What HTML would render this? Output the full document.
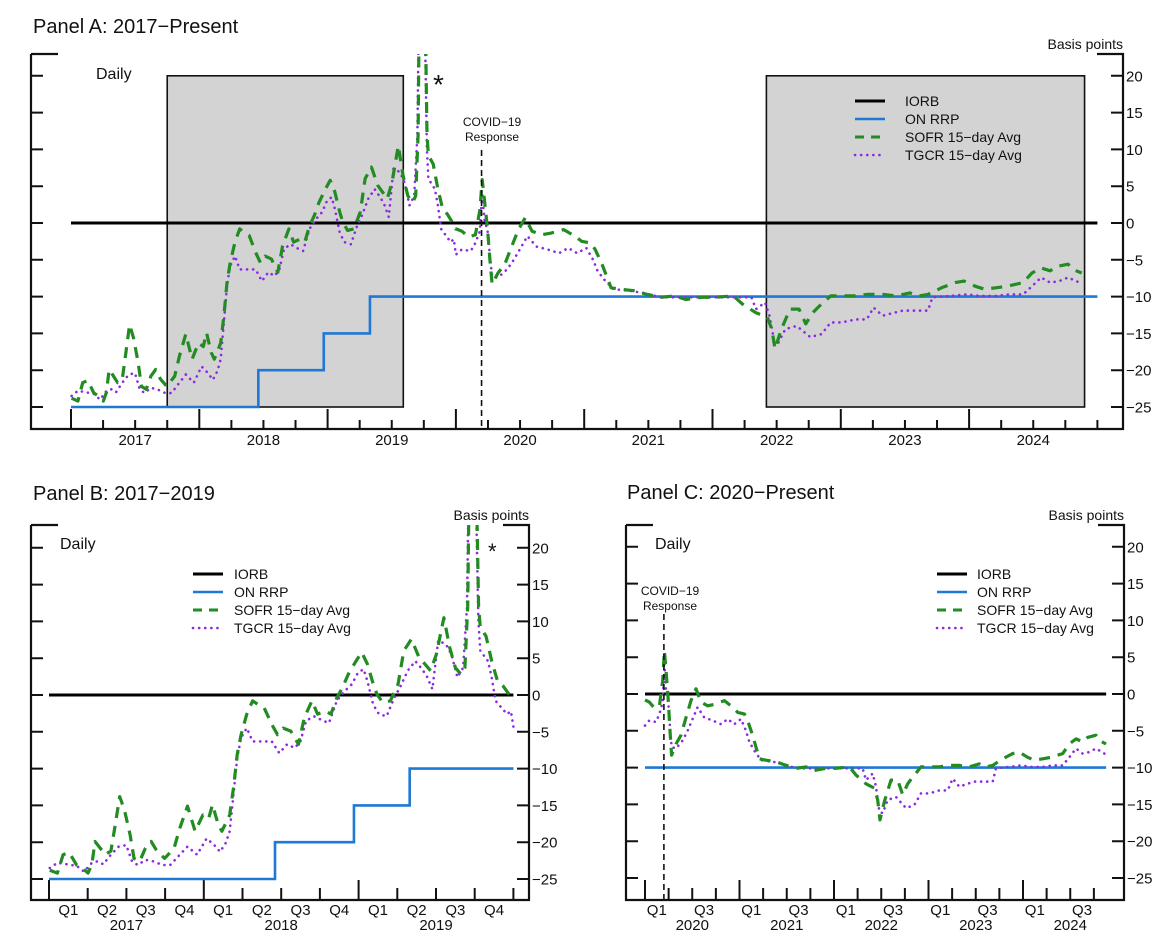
<!DOCTYPE html>
<html><head><meta charset="utf-8"><style>
html,body{margin:0;padding:0;background:#fff;}
svg{display:block;font-family:"Liberation Sans",Arial,sans-serif;}
</style></head><body>
<svg id="chart" width="1168" height="945" viewBox="0 0 1168 945" xmlns="http://www.w3.org/2000/svg">
<rect x="0" y="0" width="1168" height="945" fill="#fff"/>
<text x="33" y="33" font-size="20" fill="#111">Panel A: 2017−Present</text>
<text x="33" y="500" font-size="20" fill="#111">Panel B: 2017−2019</text>
<text x="627" y="499" font-size="20" fill="#111">Panel C: 2020−Present</text>
</svg>
<script>
// ---- data (decimal years, basis points relative to IORB) ----
const sofrDates = [2017.005,2017.054,2017.091,2017.129,2017.153,2017.178,2017.215,2017.252,2017.277,2017.297,2017.331,2017.363,2017.400,2017.425,2017.457,2017.487,2017.524,2017.549,2017.586,2017.623,2017.660,2017.697,2017.747,2017.808,2017.845,2017.895,2017.944,2017.994,2018.031,2018.056,2018.093,2018.117,2018.167,2018.192,2018.216,2018.241,2018.278,2018.315,2018.352,2018.389,2018.439,2018.476,2018.513,2018.562,2018.612,2018.649,2018.698,2018.735,2018.785,2018.822,2018.859,2018.896,2018.933,2018.983,2019.020,2019.057,2019.094,2019.119,2019.156,2019.205,2019.255,2019.292,2019.341,2019.391,2019.428,2019.465,2019.502,2019.551,2019.588,2019.625,2019.663,2019.687,2019.705,2019.715,2019.760,2019.775,2019.786,2019.823,2019.860,2019.897,2019.934,2019.972,2019.996,
2020.000,2020.046,2020.099,2020.152,2020.187,2020.205,2020.222,2020.247,2020.265,2020.282,2020.328,2020.381,2020.434,2020.487,2020.540,2020.593,2020.663,2020.734,2020.840,2020.928,2020.981,2021.051,2021.086,2021.139,2021.210,2021.280,2021.386,2021.492,2021.598,2021.704,2021.792,2021.915,2022.021,2022.162,2022.233,2022.339,2022.427,2022.462,2022.487,2022.533,2022.603,2022.674,2022.727,2022.780,2022.832,2022.921,2023.009,2023.115,2023.203,2023.326,2023.432,2023.538,2023.608,2023.679,2023.785,2023.891,2023.961,2024.049,2024.120,2024.208,2024.296,2024.420,2024.490,2024.561,2024.631,2024.684,2024.772,2024.808,2024.878];
const sofrVals = [-23.8,-24.2,-21.7,-21.4,-22.2,-23.1,-23.5,-24.2,-23,-19.9,-20.8,-21.7,-21.2,-18,-13.8,-15.6,-19,-22.2,-22.6,-20.8,-19.9,-21.2,-22.2,-20.8,-18.1,-15.1,-18.5,-16.3,-16.8,-14.9,-17.6,-18.5,-16.3,-12.6,-8.1,-5.4,-2.6,-0.8,-1.3,-1.7,-4,-5.4,-4.5,-4.9,-6.7,-3.1,-0.8,-2.6,-2.2,-2.6,-0.4,1,2.8,4.6,5.8,4.2,1.5,0.1,-1,-0.8,1.5,6,7.6,5.1,4.2,3.3,5.5,10.5,6.5,3.7,2.8,3.7,12,30,30,12,9.2,8,4.6,1.9,1.2,0.1,-0.8,
-0.8,-1.1,-1.9,-1.6,1.8,5.9,3.2,-0.9,-5,-8.3,-6.8,-5.6,-3.2,-0.9,0.7,-1.1,-1.6,-1.4,-0.9,-1.8,-2.5,-2.7,-3.6,-5.6,-8.8,-9,-9.2,-9.7,-10.1,-9.9,-10.4,-10.1,-10.1,-9.9,-11,-12.2,-12.8,-14.4,-17.1,-14.6,-11.7,-11.7,-13.7,-12.2,-11.3,-9.9,-9.9,-9.9,-9.7,-9.7,-9.9,-9.5,-9.9,-9.7,-8.8,-8.1,-7.9,-8.6,-9,-8.8,-8.6,-8.1,-6.8,-6.1,-6.5,-5.9,-5.6,-6.3,-6.8];
const tgcrDates = [2017.005,2017.054,2017.116,2017.178,2017.227,2017.277,2017.314,2017.351,2017.400,2017.450,2017.499,2017.536,2017.573,2017.623,2017.672,2017.734,2017.783,2017.845,2017.895,2017.957,2018.018,2018.068,2018.105,2018.142,2018.167,2018.192,2018.216,2018.241,2018.278,2018.315,2018.389,2018.439,2018.488,2018.538,2018.587,2018.624,2018.661,2018.711,2018.772,2018.809,2018.859,2018.908,2018.958,2018.995,2019.032,2019.057,2019.094,2019.131,2019.181,2019.230,2019.267,2019.317,2019.366,2019.403,2019.440,2019.477,2019.514,2019.564,2019.600,2019.638,2019.675,2019.700,2019.712,2019.755,2019.774,2019.786,2019.836,2019.860,2019.885,2019.922,2019.959,2019.984,
2020.000,2020.046,2020.116,2020.152,2020.187,2020.205,2020.222,2020.247,2020.265,2020.282,2020.328,2020.399,2020.451,2020.504,2020.557,2020.628,2020.716,2020.804,2020.875,2020.945,2021.016,2021.069,2021.104,2021.157,2021.228,2021.351,2021.457,2021.598,2021.774,2021.915,2022.021,2022.198,2022.303,2022.339,2022.409,2022.444,2022.480,2022.515,2022.568,2022.656,2022.762,2022.850,2022.921,2023.009,2023.115,2023.203,2023.256,2023.326,2023.414,2023.485,2023.591,2023.679,2023.714,2023.855,2023.979,2024.085,2024.208,2024.314,2024.420,2024.490,2024.561,2024.631,2024.702,2024.772,2024.861];
const tgcrVals = [-23.5,-22.8,-23,-23.2,-24,-22.8,-22.6,-23,-21.7,-20.6,-20.4,-22.6,-23.1,-22.4,-22.6,-23.1,-23.1,-21.7,-20.6,-21.7,-19.5,-20.4,-21.3,-20.1,-18.5,-13.5,-8.5,-5.8,-4.5,-6.3,-6.3,-6.3,-7.9,-6.7,-7.2,-6.3,-3.5,-2.9,-3.5,-3.8,-0.8,0.5,1.5,3,3.5,1.9,-1.3,-2.6,-2.9,-0.4,1,3.3,4.6,3.7,2.6,0.8,7.4,6.9,5.5,2.4,3.7,12,30,30,10,6,4.6,2.4,-0.8,-1.7,-2.6,-2.2,
-4.3,-3.6,-3.8,-2.7,-1.1,4.1,0.5,-1.1,-4.5,-7.2,-7.4,-6.3,-5,-3.4,-1.8,-3.2,-3.6,-4.1,-3.4,-4.1,-3.4,-5,-6.5,-7.7,-9,-9.2,-9.5,-10.1,-10.1,-10.1,-10.1,-10.1,-10.1,-11.7,-10.8,-12.6,-16,-16.2,-14.4,-14,-15.5,-15.1,-13.5,-13.5,-13.1,-13.1,-11.5,-12.6,-12.2,-11.9,-11.9,-11.9,-10.1,-9.9,-9.7,-9.9,-9.9,-9.7,-9.7,-8.6,-7.4,-8.1,-7.9,-7.4,-8.1];
const rrpStepDates = [2017.0, 2018.46, 2018.97, 2019.33];
const rrpStepVals = [-25, -20, -15, -10];
const iorbVal = 0;
const yTickVals = [20, 15, 10, 5, 0, -5, -10, -15, -20, -25];
const yTickLabels = ["20","15","10","5","0","−5","−10","−15","−20","−25"];
const yearsA = [2017, 2018, 2019, 2020, 2021, 2022, 2023, 2024];
const quarterNames = ["Q1","Q2","Q3","Q4"];

const NS = "http://www.w3.org/2000/svg";
const svg = document.getElementById("chart");
function mk(tag, attrs, parent) {
  const e = document.createElementNS(NS, tag);
  for (const k in attrs) e.setAttribute(k, attrs[k]);
  (parent || svg).appendChild(e);
  return e;
}

const panels = {
  a: {x0:71, t0:2017, ppy:128.3, y0:223, ppb:7.36, left:31, right:1123, top:54, bottom:429, tMin:2017, tMax:2025.0, lineEnd:2025.0},
  b: {x0:49, t0:2017, ppy:154.8, y0:695, ppb:7.36, left:31, right:529, top:525, bottom:900, tMin:2017, tMax:2020.0, lineEnd:2020.0},
  c: {x0:645, t0:2020, ppy:94.5, y0:694, ppb:7.36, left:626, right:1124, top:525, bottom:900, tMin:2020, tMax:2024.9, lineEnd:2024.88}
};

function drawPanel(id, p) {
  const g = mk("g", {});
  
  
  const X = t => p.x0 + (t - p.t0) * p.ppy;
  const Y = v => p.y0 - v * p.ppb;
  const clip = mk("clipPath", {id: "clip-" + id}, g);
  mk("rect", {x: p.left, y: p.top, width: p.right - p.left, height: p.bottom - p.top}, clip);

  // shaded periods (panel A)
  if (id === 'a') {
    const boxes = [[2017.75, 2019.59], [2022.42, 2024.9]];
    boxes.forEach((b, i) => {
      const r = mk("rect", {x: X(b[0]), y: Y(20), width: X(b[1]) - X(b[0]), height: Y(-25) - Y(20), fill: "#d3d3d3", stroke: "#111", "stroke-width": 1.6}, g);
      
      
    });
  }

  // frame
  const fr = mk("path", {d: `M${p.left},${p.top}H${p.left + 27}M${p.left},${p.top}V${p.bottom}H${p.right}V${p.top}H${p.right - 26}`, fill: "none", stroke: "#111", "stroke-width": 2.2}, g);
  
  

  // y ticks both sides, labels right
  yTickVals.forEach((v, i) => {
    const y = Y(v);
    const t = mk("path", {d: `M${p.left},${y}H${p.left + 12}M${p.right - 12},${y}H${p.right}`, stroke: "#111", "stroke-width": 2}, g);
    
    
    const l = mk("text", {x: p.right + 3, y: y + 5.5, "font-size": 15, fill: "#111"}, g);
    l.textContent = yTickLabels[i];
    
    
  });
  const bp = mk("text", {x: p.right, y: p.top - 5, "font-size": 14, "text-anchor": "end", fill: "#111"}, g);
  bp.textContent = "Basis points";
  
  

  // x ticks
  for (let q = 0; p.t0 + q * 0.25 <= p.tMax + 0.001; q++) {
    const t = p.t0 + q * 0.25;
    const major = (q % 4 === 0) && !(id !== 'c' && t >= p.tMax - 0.001);
    const len = major ? 20 : (id === 'a' ? 9 : 12);
    const tk = mk("line", {x1: X(t), x2: X(t), y1: p.bottom, y2: p.bottom - len, stroke: "#111", "stroke-width": 2}, g);
    
    
  }
  // x labels
  if (id === 'a') {
    yearsA.forEach(yr => {
      const l = mk("text", {x: X(yr + 0.5), y: 445, "font-size": 15, "text-anchor": "middle", fill: "#111"}, g);
      l.textContent = String(yr);
      
      
    });
  } else {
    const nYears = Math.ceil(p.tMax - p.t0 - 0.001);
    for (let k = 0; k < nYears; k++) {
      const yr = p.t0 + k;
      for (let q = 0; q < 4; q++) {
        if (id === 'c' && (q % 2 === 1)) continue;
        const l = mk("text", {x: X(yr + q * 0.25 + 0.125), y: 915, "font-size": 15, "text-anchor": "middle", fill: "#111"}, g);
        l.textContent = quarterNames[q];
        
        
      }
      const yl = mk("text", {x: X(yr + 0.5), y: 930, "font-size": 15, "text-anchor": "middle", fill: "#111"}, g);
      yl.textContent = String(yr);
      
      
    }
  }

  const data = mk("g", {"clip-path": `url(#clip-${id})`}, g);
  // IORB
  const io = mk("line", {x1: X(p.tMin), x2: X(p.lineEnd), y1: Y(iorbVal), y2: Y(iorbVal), stroke: "#000", "stroke-width": 3}, data);
  
  
  // ON RRP steps
  let d = "";
  for (let i = 0; i < rrpStepDates.length; i++) {
    const s = Math.max(rrpStepDates[i], p.tMin);
    const e = i + 1 < rrpStepDates.length ? rrpStepDates[i + 1] : p.lineEnd;
    if (e <= p.tMin || s >= p.lineEnd) continue;
    const ee = Math.min(e, p.lineEnd);
    d += (d ? "L" : "M") + X(s) + "," + Y(rrpStepVals[i]) + "L" + X(ee) + "," + Y(rrpStepVals[i]);
  }
  const rr = mk("path", {d: d, fill: "none", stroke: "#1f78d4", "stroke-width": 2.6}, data);
  
  

  function seriesPath(dates, vals) {
    let s = "";
    for (let i = 0; i < dates.length; i++) {
      if (dates[i] < p.tMin - 0.001 || dates[i] > p.lineEnd + 0.01) continue;
      s += (s ? "L" : "M") + X(dates[i]).toFixed(1) + "," + Y(vals[i]).toFixed(1);
    }
    return s;
  }
  const tg = mk("path", {d: seriesPath(tgcrDates, tgcrVals), fill: "none", stroke: "#8a2be2", "stroke-width": 2.6, "stroke-dasharray": "0.1 6", "stroke-linecap": "round"}, data);
  
  
  const so = mk("path", {d: seriesPath(sofrDates, sofrVals), fill: "none", stroke: "#228b22", "stroke-width": 3.2, "stroke-dasharray": "11 8", "stroke-linejoin": "round"}, data);
  
  

  // legend
  const lg = id === 'a' ? {lx: 855, tx: 905, y: 101} : (id === 'b' ? {lx: 193, tx: 234, y: 574} : {lx: 937, tx: 977, y: 574});
  const entries = [["IORB", "#000", "", 3, "butt"], ["ON RRP", "#1f78d4", "", 2.6, "butt"], ["SOFR 15−day Avg", "#228b22", "9 7", 3, "butt"], ["TGCR 15−day Avg", "#8a2be2", "0.1 6", 2.6, "round"]];
  entries.forEach((en, i) => {
    const y = lg.y + i * 18;
    const eg = mk("g", {}, g);
    
    
    mk("line", {x1: lg.lx, x2: lg.lx + 30, y1: y, y2: y, stroke: en[1], "stroke-width": en[3], "stroke-dasharray": en[2] || "none", "stroke-linecap": en[4]}, eg);
    const t = mk("text", {x: lg.tx, y: y + 5, "font-size": 14, fill: "#111"}, eg);
    t.textContent = en[0];
  });

  // Daily label
  const dl = mk("text", {x: id === 'a' ? 96 : (id === 'b' ? 60 : 655), y: id === 'a' ? 79 : 549, "font-size": 16, fill: "#111"}, g);
  dl.textContent = "Daily";
  
  

  // COVID annotation
  if (id === 'a' || id === 'c') {
    const cx = X(2020.2);
    const topY = id === 'a' ? 150 : 614;
    const cl = mk("line", {x1: cx, x2: cx, y1: topY, y2: p.bottom, stroke: "#111", "stroke-width": 1.6, "stroke-dasharray": "6 4"}, g);
    
    
    const tx = id === 'a' ? 492 : 670;
    const b1 = id === 'a' ? 126 : 595;
    const t1 = mk("text", {x: tx, y: b1, "font-size": 12, "text-anchor": "middle", fill: "#111"}, g);
    t1.textContent = "COVID−19";
    
    
    const t2 = mk("text", {x: tx, y: b1 + 15, "font-size": 12, "text-anchor": "middle", fill: "#111"}, g);
    t2.textContent = "Response";
    
    
  }
  // asterisk
  if (id === 'a' || id === 'b') {
    const st = mk("text", {x: id === 'a' ? 433 : 488, y: id === 'a' ? 94 : 559, "font-size": id === 'a' ? 28 : 22, fill: "#111"}, g);
    st.textContent = "*";
    
    
  }
}
drawPanel('a', panels.a);
drawPanel('b', panels.b);
drawPanel('c', panels.c);
</script>
</body></html>
